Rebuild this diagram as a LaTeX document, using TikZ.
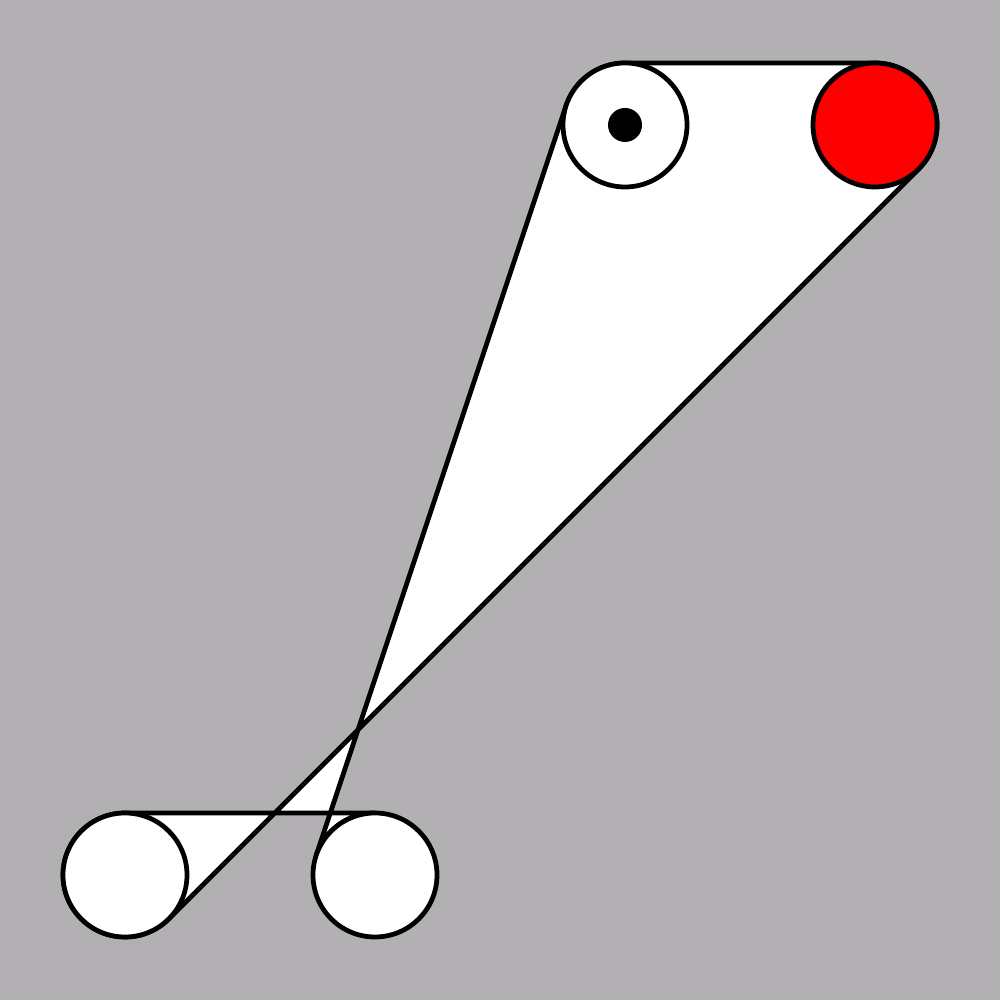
\documentclass[tikz,border=0pt]{standalone}
\usetikzlibrary{calc}
\definecolor{bggray}{RGB}{178,176,179}
\begin{document}
\begin{tikzpicture}[line width=1.35pt]
\tikzstyle{pulley}=[draw,circle,fill=white,minimum size=1.24cm,inner sep=0pt,outer sep=0pt]
\tikzstyle{drive}=[pulley,fill=red]
\tikzstyle{axle}=[circle,fill=black,minimum size=0.34cm,inner sep=0pt]
\tikzstyle{belt}=[draw,fill=white,line join=round]
\useasboundingbox (0,0) rectangle (10,10);
\fill[bggray] (0,0) rectangle (10,10);
\coordinate (tl) at (6.25,8.75);
\coordinate (tr) at (8.75,8.75);
\coordinate (bl) at (1.25,1.25);
\coordinate (br) at (3.75,1.25);
\path[belt] ($(tl)+(90:0.62)$) -- ($(tr)+(90:0.62)$)
  arc[start angle=90,end angle=-45,radius=0.62]
  -- ($(bl)+(-45:0.62)$)
  arc[start angle=-45,end angle=-270,radius=0.62]
  -- ($(br)+(90:0.62)$)
  arc[start angle=90,end angle=161.57,radius=0.62]
  -- ($(tl)+(161.57:0.62)$)
  arc[start angle=161.57,end angle=90,radius=0.62] -- cycle;
\node [pulley] (a) at (tl) {};
\node [drive] (b) at (tr) {};
\node [pulley] (c) at (bl) {};
\node [pulley] (d) at (br) {};
\node [axle] (e) at (a) {};
\end{tikzpicture}
\end{document}
